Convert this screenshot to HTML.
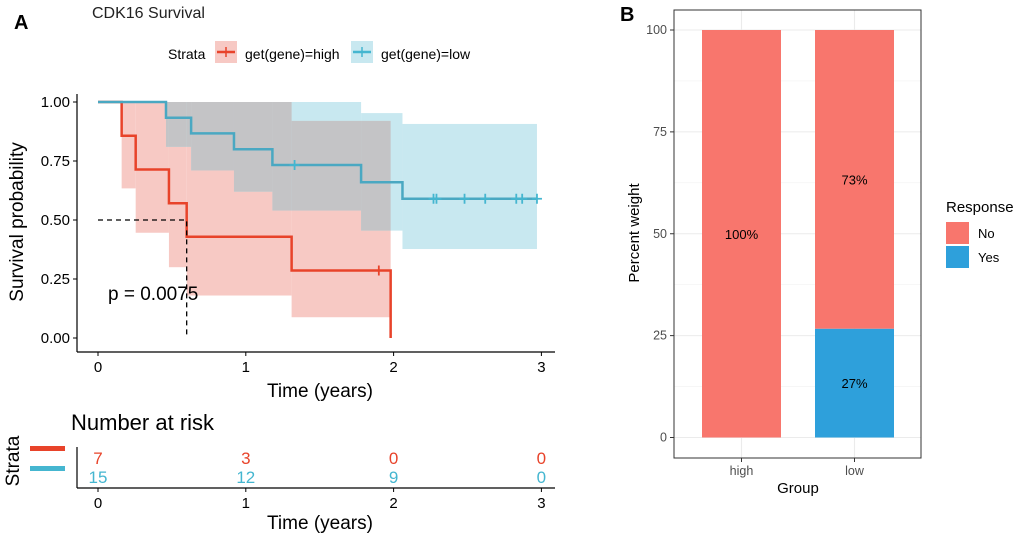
<!DOCTYPE html>
<html><head><meta charset="utf-8"><style>
body{margin:0;background:#fff;}
svg{display:block;font-family:"Liberation Sans",Arial,sans-serif;}
</style></head><body>
<svg width="1020" height="539" viewBox="0 0 1020 539">
<g id="A">
<text x="14" y="29" font-size="20" font-weight="bold">A</text>
<text x="92" y="18" font-size="16" fill="#222">CDK16 Survival</text>
<g>
<text x="168" y="59" font-size="14">Strata</text>
<rect x="215" y="41" width="22" height="22" fill="#f7c9c4"/>
<line x1="217" y1="52" x2="235" y2="52" stroke="#e8432a" stroke-width="2.5"/><line x1="226" y1="47" x2="226" y2="57" stroke="#e8432a" stroke-width="1.5"/>
<text x="245" y="59" font-size="14">get(gene)=high</text>
<rect x="351" y="41" width="22" height="22" fill="#c8e8f0"/>
<line x1="353" y1="52" x2="371" y2="52" stroke="#45b6d0" stroke-width="2.5"/><line x1="362" y1="47" x2="362" y2="57" stroke="#45b6d0" stroke-width="1.5"/>
<text x="381" y="59" font-size="14">get(gene)=low</text>
</g>
<g id="kmBands"></g>
<g id="kmLines"></g>
<g id="kmAxes"></g>
<text x="108" y="300" font-size="19">p = 0.0075</text>
<text transform="translate(23,222) rotate(-90)" text-anchor="middle" font-size="19">Survival probability</text>
<text x="320" y="397" text-anchor="middle" font-size="19">Time (years)</text>
<text x="71" y="430" font-size="22">Number at risk</text>
<text transform="translate(19,461) rotate(-90)" text-anchor="middle" font-size="19">Strata</text>
<rect x="30" y="446" width="35" height="5" fill="#e8432a"/>
<rect x="30" y="466" width="35" height="5" fill="#45b6d0"/>
<g id="risk"></g>
<text x="320" y="529" text-anchor="middle" font-size="19">Time (years)</text>
</g>
<g id="B">
<text x="620" y="21" font-size="20" font-weight="bold">B</text>
<g id="bar"></g>
<text transform="translate(639,233) rotate(-90)" text-anchor="middle" font-size="15">Percent weight</text>
<text x="798" y="493" text-anchor="middle" font-size="15">Group</text>
<text x="946" y="212" font-size="15">Response</text>
<rect x="946" y="222" width="23" height="22" fill="#f8766d"/>
<text x="978" y="238" font-size="13">No</text>
<rect x="946" y="246" width="23" height="22" fill="#2ea0db"/>
<text x="978" y="262" font-size="13">Yes</text>
</g>
</svg>
<script>
const NS="http://www.w3.org/2000/svg";
function mk(p,t,a){const e=document.createElementNS(NS,t);for(const k in a)e.setAttribute(k,a[k]);p.appendChild(e);return e;}
// KM data
const highTimes=[0,0.16,0.255,0.48,0.60,1.31,1.98];
const highSurv=[1,0.857,0.714,0.571,0.429,0.286,0];
const highUpper=[1,1,1,1,1,0.92,0.92];
const highLower=[1,0.634,0.446,0.30,0.18,0.088,0.088];
const highEnd=1.98;
const highCensor=[1.90];
const lowTimes=[0,0.46,0.63,0.92,1.18,1.78,2.06];
const lowSurv=[1,0.933,0.867,0.80,0.733,0.66,0.59];
const lowUpper=[1,1,1,1,1,0.953,0.907];
const lowLower=[1,0.81,0.71,0.62,0.54,0.455,0.377];
const lowEnd=2.97;
const lowCensor=[1.33,2.27,2.29,2.48,2.62,2.83,2.87,2.97];
const medianHigh=0.60;
const xTicks=[0,1,2,3];
const yTicks=[0,0.25,0.5,0.75,1];
const riskHigh=[7,3,0,0];
const riskLow=[15,12,9,0];
const X=t=>98+t*147.8, Y=s=>338-s*236;
const bands=document.getElementById('kmBands'),lines=document.getElementById('kmLines'),ax=document.getElementById('kmAxes');
function idx(times,t){let k=0;for(let i=0;i<times.length;i++)if(times[i]<=t)k=i;return k;}
function band(times,up,lo,end,col,name){
  for(let i=0;i<times.length;i++){const t0=times[i],t1=i+1<times.length?times[i+1]:end;if(t1<=t0||up[i]-lo[i]<=0)continue;
    const r=mk(bands,'rect',{x:X(t0),y:Y(up[i]),width:X(t1)-X(t0),height:Y(lo[i])-Y(up[i]),fill:col});
    
    }
}
band(highTimes,highUpper,highLower,highEnd,'#f7c9c4','ci-band-high');
band(lowTimes,lowUpper,lowLower,lowEnd,'#c8e8f0','ci-band-low');
// overlap region
const bps=[...new Set(highTimes.concat(lowTimes).concat([highEnd,lowEnd]))].sort((a,b)=>a-b);
for(let i=0;i<bps.length-1;i++){const t0=bps[i],t1=bps[i+1];if(t1>highEnd||t1>lowEnd)continue;
  const a=idx(highTimes,t0),b=idx(lowTimes,t0);
  const up=Math.min(highUpper[a],lowUpper[b]),lo=Math.max(highLower[a],lowLower[b]);
  if(up-lo<=0.001)continue;
  const r=mk(bands,'rect',{x:X(t0),y:Y(up),width:X(t1)-X(t0),height:Y(lo)-Y(up),fill:'#c4c4c6'});
  
  }
function step(times,surv,end,col,name){
  let d='M'+X(times[0])+' '+Y(surv[0]);
  for(let i=1;i<times.length;i++){d+=' H'+X(times[i])+' V'+Y(surv[i]);}
  d+=' H'+X(end);
  const p=mk(lines,'path',{d:d,fill:'none',stroke:col,'stroke-width':2.5});
  
  
}
function survAt(times,surv,t){let s=surv[0];for(let i=0;i<times.length;i++)if(times[i]<=t)s=surv[i];return s;}
step(highTimes,highSurv,highEnd,'#e8432a','survival-curve-high');
step(lowTimes,lowSurv,lowEnd,'#4aa8c2','survival-curve-low');
function cens(arr,times,surv,col,name){arr.forEach(t=>{const x=X(t),y=Y(survAt(times,surv,t));
  const c=mk(lines,'path',{d:`M${x-5} ${y}H${x+5}M${x} ${y-5}V${y+5}`,stroke:col,'stroke-width':1.8});
  
  });}
cens(highCensor,highTimes,highSurv,'#e8432a','censor-mark-high');
cens(lowCensor,lowTimes,lowSurv,'#45b6d0','censor-mark-low');
const md=mk(lines,'path',{d:`M${X(0)} ${Y(0.5)}H${X(medianHigh)}V${Y(0)}`,fill:'none',stroke:'#000','stroke-width':1.3,'stroke-dasharray':'5,4'});


mk(ax,'line',{x1:77,y1:94,x2:77,y2:352,stroke:'#000','stroke-width':1.2});
mk(ax,'line',{x1:77,y1:352,x2:555,y2:352,stroke:'#000','stroke-width':1.2});
yTicks.forEach(v=>{mk(ax,'line',{x1:73,x2:77,y1:Y(v),y2:Y(v),stroke:'#000'});
  const t=mk(ax,'text',{x:70,y:Y(v)+5,'text-anchor':'end','font-size':15});t.textContent=v.toFixed(2);
  
  });
const risk=document.getElementById('risk');
mk(risk,'line',{x1:77,y1:447,x2:77,y2:488,stroke:'#000','stroke-width':1.2});
mk(risk,'line',{x1:77,y1:488,x2:555,y2:488,stroke:'#000','stroke-width':1.2});
xTicks.forEach((v,i)=>{
  mk(ax,'line',{x1:X(v),x2:X(v),y1:352,y2:356,stroke:'#000'});
  const t=mk(ax,'text',{x:X(v),y:372,'text-anchor':'middle','font-size':15});t.textContent=v;
  
  
  mk(risk,'line',{x1:X(v),x2:X(v),y1:488,y2:492,stroke:'#000'});
  const t2=mk(risk,'text',{x:X(v),y:508,'text-anchor':'middle','font-size':15});t2.textContent=v;
  
  
  const a=mk(risk,'text',{x:X(v),y:464,'text-anchor':'middle','font-size':17,fill:'#e8432a'});a.textContent=riskHigh[i];
  
  
  const b=mk(risk,'text',{x:X(v),y:483,'text-anchor':'middle','font-size':17,fill:'#45b6d0'});b.textContent=riskLow[i];
  
  
});
// Bar chart
const groups=['high','low'];
const noPct=[100,73.3];
const yesPct=[0,26.7];
const noLabels=['100%','73%'];
const yesLabels=['','27%'];
const barTicks=[0,25,50,75,100];
const bar=document.getElementById('bar');
const BY=v=>437.5-v*4.075, BX=i=>741.5+i*113;
mk(bar,'rect',{x:674,y:10,width:247,height:448,fill:'#fff'});
for(let v=12.5;v<100;v+=25)mk(bar,'line',{x1:674,x2:921,y1:BY(v),y2:BY(v),stroke:'#f2f2f2','stroke-width':0.6});
barTicks.forEach(v=>{mk(bar,'line',{x1:674,x2:921,y1:BY(v),y2:BY(v),stroke:'#ebebeb','stroke-width':1.1});
  mk(bar,'line',{x1:670,x2:674,y1:BY(v),y2:BY(v),stroke:'#333'});
  const t=mk(bar,'text',{x:667,y:BY(v)+4,'text-anchor':'end','font-size':12.5,fill:'#4d4d4d'});t.textContent=v;
  
  });
groups.forEach((g,i)=>{mk(bar,'line',{x1:BX(i),x2:BX(i),y1:10,y2:458,stroke:'#ebebeb','stroke-width':1.1});});
groups.forEach((g,i)=>{
  const x=BX(i)-39.5,w=79;
  const ry=mk(bar,'rect',{x:x,y:BY(yesPct[i]),width:w,height:BY(0)-BY(yesPct[i]),fill:'#2ea0db'});
  
  
  const rn=mk(bar,'rect',{x:x,y:BY(yesPct[i]+noPct[i]),width:w,height:BY(yesPct[i])-BY(yesPct[i]+noPct[i]),fill:'#f8766d'});
  
  
  const tn=mk(bar,'text',{x:BX(i),y:BY(yesPct[i]+noPct[i]/2)+5,'text-anchor':'middle','font-size':13});tn.textContent=noLabels[i];
  
  
  if(yesLabels[i]){const ty=mk(bar,'text',{x:BX(i),y:BY(yesPct[i]/2)+5,'text-anchor':'middle','font-size':13});ty.textContent=yesLabels[i];
  
  }
  mk(bar,'line',{x1:BX(i),x2:BX(i),y1:458,y2:462,stroke:'#333'});
  const gl=mk(bar,'text',{x:BX(i),y:475,'text-anchor':'middle','font-size':12.5,fill:'#4d4d4d'});gl.textContent=g;
  
  
});
mk(bar,'rect',{x:674,y:10,width:247,height:448,fill:'none',stroke:'#333','stroke-width':1});
</script>
</body></html>
